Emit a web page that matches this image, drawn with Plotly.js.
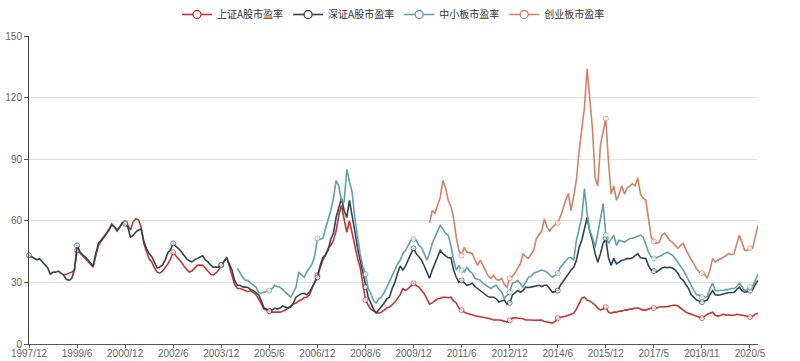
<!DOCTYPE html>
<html>
<head>
<meta charset="utf-8">
<script src="https://cdn.plot.ly/plotly-3.0.1.min.js"></script>
<style>html,body{margin:0;padding:0;background:#fff;}#chart{width:800px;height:361px;}</style>
</head>
<body>
<div id="chart"></div>
<script>
// Monthly observations, index 0 = 1997/12 ... index 273 = 2020/8 (274 observations)
var pointCount = 274;
var tickEvery = 18;
var tickLabels = ['1997/12','1999/6','2000/12','2002/6','2003/12','2005/6','2006/12','2008/6','2009/12','2011/6','2012/12','2014/6','2015/12','2017/5','2018/11','2020/5'];

var seriesNames = ['上证A股市盈率','深证A股市盈率','中小板市盈率','创业板市盈率'];
var seriesColors = ['#c23531','#2f4554','#61a0a8','#d48265'];
// first observation of each series (1999/1, 1997/12, 2004/6, 2010/6)
var seriesStartIndex = [13, 0, 78, 150];

// 上证A股市盈率 from 1999/1
var shA = [
 33.5,34,34.5,35,36,45.6,44.5,
 43,42,40.5,39,37.5,43,48,50,51.5,53.5,
 55.5,58,57,55.5,57,59,59,58,55.5,59.5,
 61,60.5,57,49,45,41.5,40,37,35,34.5,
 35.5,37,39,41.5,44.7,43,41.7,40,38,36.5,
 35,35.5,37,38.3,38.5,38.3,37,35.5,34,33.5,
 34.5,36,38.5,40,42,38,33,29,27,27,
 26.5,26,25.5,26,25.2,24,22,19.5,17,16.5,
 16,15.5,15.5,15.5,15.5,16,16.5,17.5,18.5,19.5,
 20,21,21.5,22.5,22.8,24,27,30,33.5,37,
 40.8,43,46.6,48,50.5,55,62.6,67.5,60,54.4,
 60,54,47,42,37.4,30,21.4,19,17,16,
 15.5,15,15.5,16.5,17.5,18,19,20.5,22,24,
 27,26,27,28.5,29.6,28.5,27.7,26,24.5,22,
 19.4,20,21,22,22.3,22.8,22.8,22.5,22.8,21,
 20,17.5,16.5,15.5,15,14.5,14,13.8,13.5,13.1,
 13,12.8,12.6,12.2,11.7,11.8,11.7,11.5,11,10.7,
 11.5,12.6,12.8,12.6,12.6,12.3,11.7,11.8,11.7,11.6,
 11.7,11.5,11.7,11,10.7,10.5,10.2,11,12.6,13,
 13.1,13.5,14,14.5,15,17,20,22.3,22.8,21.4,
 21,20,19,17.5,16.5,17,18,15.5,15,15.5,
 15.5,16,16,16.5,16.5,17,17,17.5,17.5,17,
 16.5,16.5,17,17.5,17.5,17.5,18,18,18,18.2,
 18.5,18.8,19,18.5,17.5,16.5,15.5,15,14.5,14,
 13.5,13.1,12.6,13.5,14.5,15,15.5,14,13.6,14,
 14.5,14.2,14,14,14,14.5,14.2,14,14,13.5,
 13.1,13.5,14.5,15
];

// 深证A股市盈率 from 1997/12
var szA = [
 43.2,42.5,42,41,41.5,40,38.5,37,34,35,
 35,35.5,34.5,33.5,31.5,31,32,36,48,45,
 43.5,42.5,41,39.5,38,44,49,50.5,52,54,
 56,58.5,57,55,57,59,58.5,57,52,53,
 54.5,55.5,56,50,46.5,44,42.5,40,37,37.5,
 38.5,41,44.5,46,49,47.5,46.5,45,43,41.5,
 40.5,40,41,41.7,42.5,43,41,40,38.5,37.4,
 37.5,37.4,38.5,40.5,42,39,36,31,28.6,28.6,
 27.8,27.7,27.5,26.5,26,25,24,21,17.5,17,
 16,16.5,17.5,17,17.5,18.5,18,17.5,18,20,
 22.8,23.5,24.5,24.7,24,25.2,27.5,30,32.5,38,
 42,43.5,45.6,51,54,61.6,67,71,65,61.6,
 70,63,55,47,40.8,34,27.7,23,20,17,
 15,16.5,18.5,20,22,22.8,27,30,34.5,38,
 36,38,41,44,46.6,44,42.5,40.8,38,35,
 32,36,39,42,45.6,44,43,42,42,36,
 32.5,30,31,30,28.6,29,29.6,28,27,26,
 25,23.8,23,22.8,22.8,22,20.4,21,21.4,19.4,
 20,23.8,25,26,25.2,26,27.7,27.5,27.7,28,
 28.6,28.6,28,28.6,28.6,27,25.2,25.5,26,28.6,
 30.5,32.5,34,36,37.4,40.8,47,50.5,56,61.6,
 55,50.5,44,39.8,44,49,51.4,42,38.3,41.7,
 39,40,40.8,41,41.7,41.5,42,43,44,42,
 41.7,41.7,38,36,35.5,35,36,37,37.4,37.2,
 37.4,37,36,34.5,32,31,29,27,24,22.8,
 21.4,21,20.4,21,21.4,24,26,24,23.8,24,
 24.5,24.7,25,25,25.2,26.5,27.7,26,25.2,25.5,
 26,26.5,29,31
];

// 中小板市盈率 from 2004/6
var zxb = [
 37,34.5,
 32.5,31,31,29.6,28.5,27.7,25,24.7,25.2,25.5,
 26,27,28.6,28,27.7,26.5,25.2,24,22.8,25,
 27.7,35,33.5,32.5,35,37,39,43,51.4,51,
 51.4,56,60,65,70.9,79.6,77,70,69,85,
 79,74,61.6,52,44,38,34,27,24.7,21,
 20,22,23,25,27.7,30,33,36,39,40.8,
 44,45.6,48,50.5,51,50.5,48,47,44,40.8,
 44,49,52,55,57.8,56,53.9,53,48,40.8,
 36,38.3,36,35,37.4,35.5,34.5,32,31.5,31,
 29.5,28.6,27.5,27,28,28.6,26.5,25.2,22.3,24,
 25.2,29.6,30,31,29.5,27.7,30,32.5,33,34.5,
 35,35.5,36,35.5,35,33.5,32.5,33.5,34.5,37.4,
 39,40.8,42,42,41,50.5,56.8,61.6,75.7,63.6,
 55,52,47,55,61,68.4,53,49,51,53,
 48,50.5,50,49.5,50.5,51.4,51.5,52,52.5,53,
 52,48,44.7,42.5,41.7,42,42.5,43.2,44,44.7,
 44,43.2,41.5,39.8,38,36,33.5,31,28,26,
 24,23.8,22.8,22.8,23,27,29.6,26,26,26,
 26.2,26.5,26.5,27,27,28,29.6,28,26,26.5,
 27.7,28,31,34
];

// 创业板市盈率 from 2010/6
var cyb = [
 59,65,63.6,67,71.4,79.6,76,70,67,61.6,
 52,45.6,43.2,47,44.7,44.5,44,41,38.3,40.8,
 38,35,33,32,33.5,31.5,31,32,29,27.7,
 32,33,34.5,37,39,44,42.5,41.7,44,45.6,
 51.4,53,55,61,57,55,57,58,59,62,
 66.5,70,73.3,65,72,80,94,105,115,134,
 119,105,81,77,97,104,109.7,89,73,77,
 70,73,77,73,76,77,78,77,81,73,
 71,70,60,52,50,49,49.5,53,54,52,
 50.5,49.5,48,46.6,48,49,46,43.2,41,39,
 36.5,35,34.5,34,32,36,41.7,40,40.8,41.5,
 42,43,44,43.5,44,49,53,49.5,45.6,45.6,
 46.6,46.6,52,57.8
];

var seriesValues = [shA, szA, zxb, cyb];
var tickVals = tickLabels.map(function(t, j){ return j * tickEvery; });

var traces = [];
seriesValues.forEach(function(vals, k){
  var start = seriesStartIndex[k];
  var xs = vals.map(function(v, j){ return start + j; });
  var sizes = xs.map(function(x){ return (x % tickEvery === 0) ? 5 : 0; });
  traces.push({
    type: 'scatter', mode: 'lines+markers', x: xs, y: vals, name: seriesNames[k],
    showlegend: false, cliponaxis: false,
    line: {color: seriesColors[k], width: 1.6},
    marker: {size: sizes, color: '#fff', line: {color: seriesColors[k], width: 1}}
  });
});
// legend entries
seriesNames.forEach(function(n, k){
  traces.push({
    type: 'scatter', mode: 'lines+markers', x: [null], y: [null], name: n,
    line: {color: seriesColors[k], width: 1.6},
    marker: {size: 8, color: '#fff', line: {color: seriesColors[k], width: 1.3}}
  });
});

var tickFont = {family: 'Liberation Sans, Arial, sans-serif', size: 10, color: '#666'};
var layout = {
  width: 800, height: 361,
  margin: {l: 29, r: 42.3, t: 35.5, b: 17, pad: 0},
  paper_bgcolor: '#fff', plot_bgcolor: '#fff',
  showlegend: true,
  legend: {orientation: 'h', x: 0.5, xanchor: 'center', yref: 'container', y: 1, yanchor: 'top',
           font: {family: 'Noto Sans CJK SC, sans-serif', size: 10, color: '#333'},
           itemwidth: 30, bgcolor: 'rgba(0,0,0,0)'},
  xaxis: {
    type: 'linear', range: [0, pointCount - 1], autorange: false,
    tickmode: 'array', tickvals: tickVals, ticktext: tickLabels,
    ticks: 'outside', ticklen: 3, tickcolor: '#555', tickfont: tickFont,
    ticklabelstandoff: -3,
    showline: true, linecolor: '#555', linewidth: 1, showgrid: false, zeroline: false
  },
  yaxis: {
    range: [0, 150], autorange: false, tickmode: 'linear', tick0: 0, dtick: 30,
    ticks: 'outside', ticklen: 4, tickcolor: '#555', tickfont: tickFont,
    showline: true, linecolor: '#444', linewidth: 1,
    showgrid: true, gridcolor: '#e0e0e0', gridwidth: 1, zeroline: false
  },
  yaxis2: {
    overlaying: 'y', side: 'right', anchor: 'x',
    range: [0, 150], autorange: false, tickmode: 'linear', tick0: 0, dtick: 30,
    ticks: 'outside', ticklen: 4, tickcolor: '#777', tickfont: tickFont,
    showline: true, linecolor: '#888', linewidth: 1, showgrid: false, zeroline: false
  }
};

Plotly.newPlot('chart', traces, layout, {displayModeBar: false, staticPlot: true});
</script>
</body>
</html>
